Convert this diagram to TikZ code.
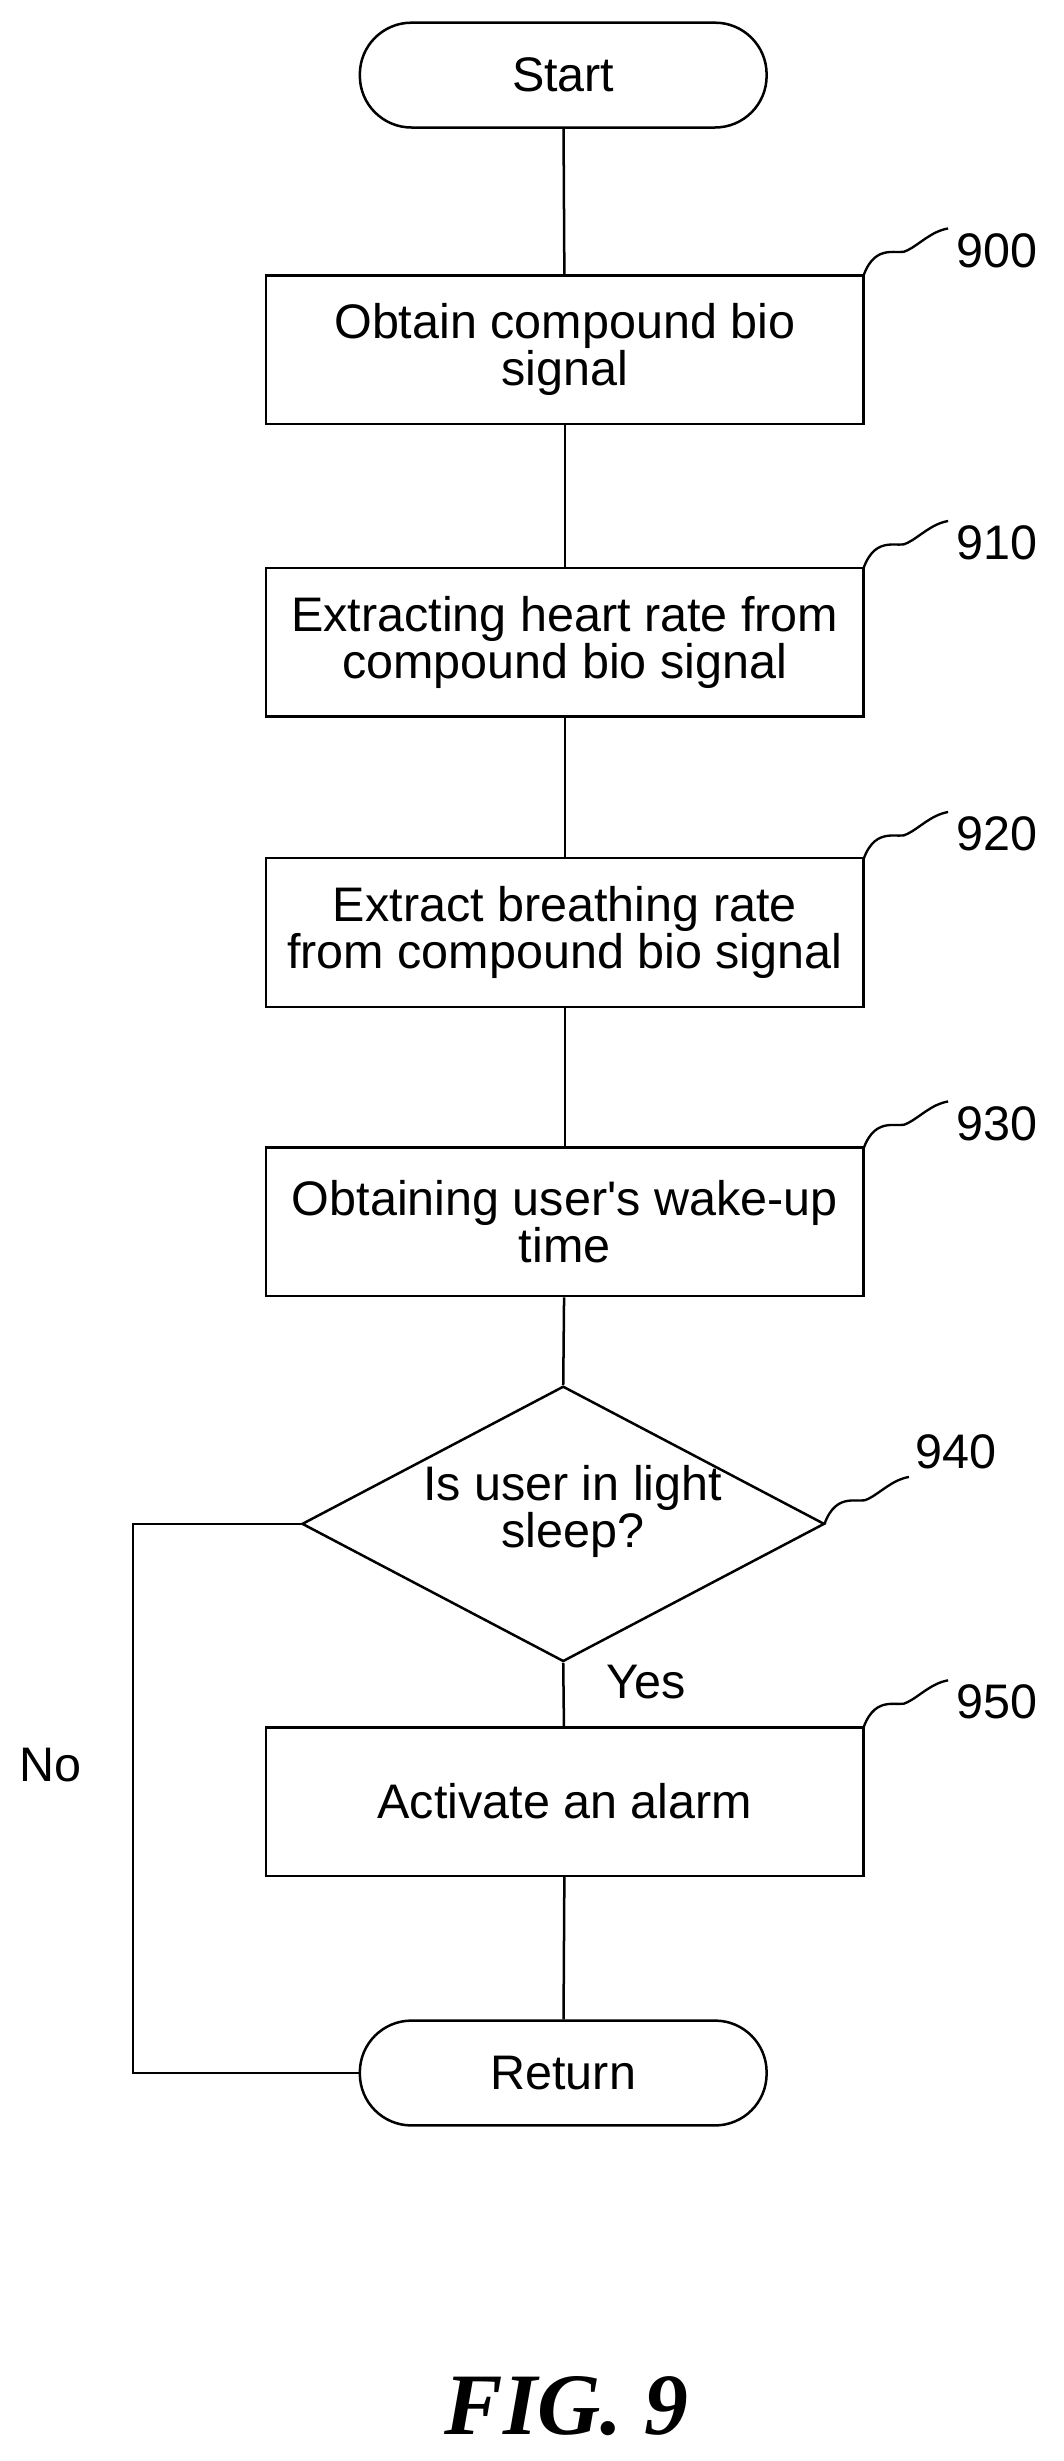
\documentclass[tikz,border=0pt]{standalone}
\usepackage{fontspec}
\setmainfont{Liberation Sans}
\newfontfamily\figfont{Liberation Serif}
\usetikzlibrary{shapes.geometric}
\begin{document}
\begin{tikzpicture}[x=1pt,y=-1pt,line width=1.6pt,
  every node/.style={font=\fontsize{31}{30}\selectfont},
  box/.style={draw,minimum width=382pt,minimum height=95pt,align=center,inner sep=2pt},
  term/.style={draw,rounded corners=33pt,minimum width=260pt,minimum height=67pt}]
\useasboundingbox[fill=white] (0,0) rectangle (680,1573);
\node[term] (start) at (360,48) {Start};
\node[box] (b900) at (361,223.5) {Obtain compound bio\\signal};
\node[box] (b910) at (361,410.5) {Extracting heart rate from\\compound bio signal};
\node[box] (b920) at (361,596) {Extract breathing rate\\from compound bio signal};
\node[box] (b930) at (361,781) {Obtaining user\textquotesingle s wake-up\\time};
\node[draw,diamond,aspect=1.9,minimum width=334pt,minimum height=176pt,inner sep=0pt] (d940) at (360,974) {};
\node[align=center] at (366,966) {Is user in light\\sleep?};
\node[box] (b950) at (361,1151.5) {Activate an alarm};
\node[term] (ret) at (360,1325) {Return};
\draw (start) -- (b900);
\draw (b900) -- (b910);
\draw (b910) -- (b920);
\draw (b920) -- (b930);
\draw (b930) -- (d940.north);
\draw (d940.south) -- (b950);
\draw (b950) -- (ret);
\coordinate (c1) at (85,974);
\coordinate (c2) at (85,1325);
\draw (d940.west) -- (c1) -- (c2) -- (ret.west);
\node at (413,1075) {Yes};
\node at (32,1128) {No};
\foreach \n/\y in {900/176,910/363,920/549,930/734,950/1104}{
  \draw[line width=1.5pt] (552,\y) .. controls (560,\y-22) and (575,\y-12) .. (580,\y-16) .. controls (588,\y-20) and (595,\y-28) .. (606,\y-30);
  \node at (637,\y-16) {\n};
}
\draw[line width=1.5pt] (527,974) .. controls (535,952) and (550,962) .. (555,958) .. controls (563,954) and (570,946) .. (581,944);
\node at (611,928) {940};
\node[font=\figfont\bfseries\itshape\fontsize{56}{60}\selectfont] (fig) at (362,1538) {FIG. 9};
\end{tikzpicture}
\end{document}
